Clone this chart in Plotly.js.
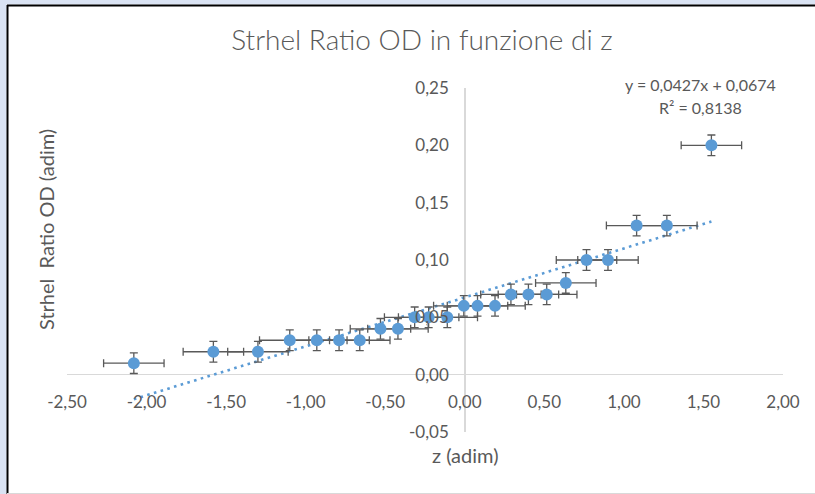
<!DOCTYPE html>
<html>
<head>
<meta charset="utf-8">
<script src="https://cdn.plot.ly/plotly-3.0.1.min.js"></script>
<style>
  html, body { margin: 0; padding: 0; background: #ffffff; }
  #chart { width: 815px; height: 494px; }
</style>
</head>
<body>
<div id="chart"></div>
<script>
// Measured Strehl ratio (OD) against z, with constant uncertainties
const zVals  = [-2.08, -1.58, -1.30, -1.10, -0.93, -0.79, -0.66, -0.53, -0.42, -0.315, -0.227, -0.11,
                -0.006, 0.08, 0.19, 0.29, 0.40, 0.515, 0.635, 0.765, 0.90, 1.08, 1.27, 1.55];
const srVals = [0.01, 0.02, 0.02, 0.03, 0.03, 0.03, 0.03, 0.04, 0.04, 0.05, 0.05, 0.05,
                0.06, 0.06, 0.06, 0.07, 0.07, 0.07, 0.08, 0.10, 0.10, 0.13, 0.13, 0.20];
const zErr  = 0.19;
const srErr = 0.009;

// Linear fit as reported on the chart
const fitSlope = 0.0427;
const fitIntercept = 0.0674;
const fitR2 = '0,8138';

// Axis ticks (Italian decimal comma)
const xTickVals = [-2.5, -2.0, -1.5, -1.0, -0.5, 0.0, 0.5, 1.0, 1.5, 2.0];
const xTickText = ['-2,50', '-2,00', '-1,50', '-1,00', '-0,50', '0,00', '0,50', '1,00', '1,50', '2,00'];
const yTickVals = [-0.05, 0.0, 0.05, 0.10, 0.15, 0.20, 0.25];
const yTickText = ['-0,05', '0,00', '0,05', '0,10', '0,15', '0,20', '0,25'];

const X_RANGE = [-2.5, 2.0];
const Y_RANGE = [-0.05, 0.25];

// plot-area geometry in pixels, used to place frame and labels
const M = { l: 67, r: 32, t: 88, b: 62 };
const W = 815 - M.l - M.r;
const H = 494 - M.t - M.b;
const px = v => (v - M.l) / W;
const py = v => (M.t + H - v) / H;

const fitX = [Math.min(...zVals), Math.max(...zVals)];
const fitY = fitX.map(x => fitSlope * x + fitIntercept);

const gray = '#595959';
const blue = '#5b9bd5';
const FONT = 'Lato, "Open Sans", sans-serif';

const traces = [
  {
    x: fitX, y: fitY, type: 'scatter', mode: 'lines',
    line: { color: blue, width: 2.6, dash: '2.6px,4.4px' },
    hoverinfo: 'skip', showlegend: false
  },
  {
    x: zVals, y: srVals, type: 'scatter', mode: 'markers',
    marker: { color: blue, size: 12 },
    error_x: { type: 'constant', value: zErr, color: gray, thickness: 1.3, width: 4 },
    error_y: { type: 'constant', value: srErr, color: gray, thickness: 1.3, width: 4 },
    showlegend: false
  }
];

const fmt = v => v.toFixed(4).replace('.', ',');

const layout = {
  width: 815, height: 494,
  margin: M,
  paper_bgcolor: '#ffffff',
  plot_bgcolor: 'rgba(0,0,0,0)',
  showlegend: false,
  font: { family: FONT, color: gray, size: 17 },
  title: {
    text: 'Strhel Ratio OD in funzione di z',
    font: { family: FONT, size: 28, color: gray, weight: 300 },
    x: 422 / 815, xanchor: 'center',
    y: 1 - 40 / 494, yanchor: 'middle'
  },
  xaxis: {
    range: X_RANGE, showgrid: false,
    zeroline: true, zerolinecolor: '#d9d9d9', zerolinewidth: 1.5,
    showline: false,
    anchor: 'free', position: (0 - Y_RANGE[0]) / (Y_RANGE[1] - Y_RANGE[0]),
    tickmode: 'array', tickvals: xTickVals, ticktext: xTickText,
    ticks: '', ticklabelstandoff: 15,
    tickfont: { family: FONT, size: 17, color: gray }
  },
  yaxis: {
    range: Y_RANGE, showgrid: false,
    zeroline: true, zerolinecolor: '#d9d9d9', zerolinewidth: 1.5,
    showline: false,
    anchor: 'free', position: (0 - X_RANGE[0]) / (X_RANGE[1] - X_RANGE[0]),
    tickmode: 'array', tickvals: yTickVals, ticktext: yTickText,
    ticks: '', ticklabelstandoff: 16,
    tickfont: { family: FONT, size: 17, color: gray }
  },
  annotations: [
    { xref: 'paper', yref: 'paper', x: px(700), y: py(84), xanchor: 'center', yanchor: 'middle',
      showarrow: false, text: 'y = ' + fmt(fitSlope) + 'x + ' + fmt(fitIntercept),
      font: { family: FONT, size: 16, color: gray } },
    { xref: 'paper', yref: 'paper', x: px(700), y: py(107), xanchor: 'center', yanchor: 'middle',
      showarrow: false, text: 'R² = ' + fitR2,
      font: { family: FONT, size: 16, color: gray } },
    { xref: 'paper', yref: 'paper', x: px(466), y: py(455), xanchor: 'center', yanchor: 'middle',
      showarrow: false, text: 'z (adim)',
      font: { family: FONT, size: 20, color: gray } },
    { xref: 'paper', yref: 'paper', x: px(46), y: py(230), xanchor: 'center', yanchor: 'middle',
      showarrow: false, textangle: -90, text: 'Strhel\u00a0 Ratio OD (adim)',
      font: { family: FONT, size: 20, color: gray } }
  ],
  shapes: [
    // pale surround on left and top
    { type: 'rect', xref: 'paper', yref: 'paper', x0: px(0), x1: px(6.5), y0: py(494), y1: py(0),
      fillcolor: '#dae3f3', line: { width: 0 }, layer: 'below' },
    { type: 'rect', xref: 'paper', yref: 'paper', x0: px(0), x1: px(815), y0: py(4.5), y1: py(0),
      fillcolor: '#dae3f3', line: { width: 0 }, layer: 'below' },
    // chart frame
    { type: 'line', xref: 'paper', yref: 'paper', x0: px(7.5), x1: px(7.5), y0: py(5), y1: py(494),
      line: { color: '#000000', width: 2 } },
    { type: 'line', xref: 'paper', yref: 'paper', x0: px(7), x1: px(815), y0: py(5.5), y1: py(5.5),
      line: { color: '#000000', width: 2 } },
    { type: 'line', xref: 'paper', yref: 'paper', x0: px(7), x1: px(815), y0: py(493.5), y1: py(493.5),
      line: { color: '#d9d9d9', width: 1 } }
  ]
};

Plotly.newPlot('chart', traces, layout, { staticPlot: true, displayModeBar: false });
</script>
</body>
</html>
